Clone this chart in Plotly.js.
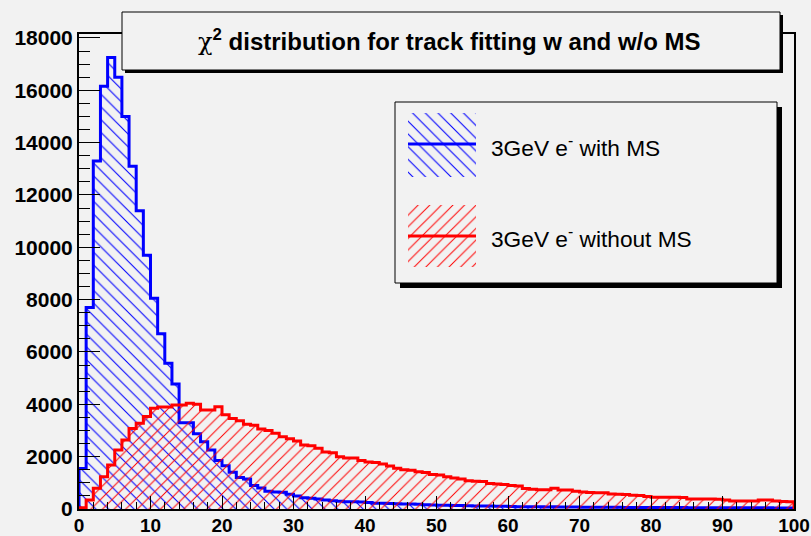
<!DOCTYPE html>
<html>
<head>
<meta charset="utf-8">
<script src="https://cdn.plot.ly/plotly-3.0.1.min.js"></script>
<style>
  html, body { margin: 0; padding: 0; background: #f2f2f2; }
  #chart { width: 811px; height: 536px; }
</style>
</head>
<body>
<div id="chart"></div>
<script>
// Histogram binning: 100 bins of width 1 on [0, 100)
const binLow = 0;
const binHigh = 100;
const nBins = 100;

// chi2 of 3 GeV electron tracks, fit including multiple scattering
const countsWithMS = [
  1550, 7700, 13300, 16150, 17250, 16500, 15000, 13100, 11400, 9700,
  8050, 6700, 5570, 4780, 3300, 3300, 2880, 2570, 2250, 1850,
  1650, 1400, 1200, 1150, 900, 800, 680, 650, 640, 560,
  500, 430, 410, 380, 340, 320, 300, 280, 275, 270,
  250, 220, 215, 210, 200, 195, 190, 185, 160, 155,
  145, 140, 135, 130, 120, 118, 115, 112, 108, 105,
  95, 90, 88, 85, 82, 80, 85, 78, 75, 72,
  70, 70, 68, 66, 65, 64, 62, 60, 60, 58,
  58, 56, 55, 55, 54, 52, 52, 50, 50, 48,
  48, 47, 46, 45, 45, 44, 43, 42, 42, 40
];

// chi2 of 3 GeV electron tracks, fit ignoring multiple scattering
const countsWithoutMS = [
  50, 340, 790, 1235, 1680, 2250, 2640, 3080, 3280, 3530,
  3850, 3900, 3900, 3970, 3975, 4040, 4000, 3780, 3780, 3910,
  3600, 3460, 3370, 3240, 3200, 3060, 3000, 2890, 2760, 2680,
  2600, 2450, 2420, 2320, 2180, 2150, 2000, 1950, 1950, 1850,
  1800, 1780, 1720, 1640, 1560, 1500, 1480, 1420, 1390, 1320,
  1300, 1230, 1180, 1150, 1080, 1060, 1050, 970, 960, 940,
  900, 880, 780, 750, 740, 740, 790, 730, 725, 680,
  650, 630, 625, 620, 570, 560, 555, 530, 520, 480,
  450, 450, 445, 445, 440, 385, 380, 380, 378, 375,
  340, 310, 308, 305, 305, 340, 340, 310, 282, 280
];

const xTickVals = [0, 10, 20, 30, 40, 50, 60, 70, 80, 90, 100];
const xTickText = ['0', '10', '20', '30', '40', '50', '60', '70', '80', '90', '100'];
const yTickVals = [0, 2000, 4000, 6000, 8000, 10000, 12000, 14000, 16000, 18000];
const yTickText = ['0', '2000', '4000', '6000', '8000', '10000', '12000', '14000', '16000', '18000'];

const seriesNames = ['3GeV e<sup>-</sup> with MS', '3GeV e<sup>-</sup> without MS'];
const seriesColors = ['#0000ff', '#ff0000'];
const hatchShapes = ['\\', '/'];
const titleText = '<span style="font-family:\'DejaVu Serif\';font-weight:normal">\u03c7</span><b><sup>2</sup> distribution for track fitting w and w/o MS</b>';

// Frame of the pad in pixels
const FR = { l: 79, r: 794, t: 34, b: 509 };
const W = 811, H = 536;
const yMax = 18150;
const px = v => (v - FR.l) / (FR.r - FR.l);
const py = v => (FR.b - v) / (FR.b - FR.t);

// Outline of a histogram drawn as a step line closed down to zero at both ends
function stepOutline(counts) {
  const w = (binHigh - binLow) / nBins;
  const xs = [binLow], ys = [0];
  counts.forEach((c, i) => { xs.push(binLow + i * w); ys.push(c); });
  xs.push(binHigh); ys.push(counts[counts.length - 1]);
  xs.push(binHigh); ys.push(0);
  return { xs, ys };
}

function hatch(k) {
  return {
    shape: hatchShapes[k], fgcolor: seriesColors[k], bgcolor: 'rgba(0,0,0,0)',
    size: k === 0 ? 9 : 8.2, solidity: 0.12, fillmode: 'replace'
  };
}

function histTrace(counts, k) {
  const s = stepOutline(counts);
  return {
    type: 'scatter', mode: 'lines',
    x: s.xs, y: s.ys,
    line: { color: seriesColors[k], width: 3, shape: 'hv' },
    fill: 'tozeroy',
    fillcolor: 'rgba(0,0,0,0)',
    fillpattern: hatch(k),
    hoverinfo: 'skip', showlegend: false
  };
}

// Legend keys (hatched box with a line through it), in pixel coordinates
const legendKeys = [
  { x0: 408, x1: 476, y0: 113, y1: 177, yl: 144, ytext: 146 },
  { x0: 408, x1: 476, y0: 205, y1: 267, yl: 236, ytext: 237 }
];
const keyTraces = [];
legendKeys.forEach((g, k) => {
  keyTraces.push({
    type: 'scatter', mode: 'lines', xaxis: 'x2', yaxis: 'y2',
    x: [g.x0, g.x1, g.x1, g.x0, g.x0], y: [g.y0, g.y0, g.y1, g.y1, g.y0],
    line: { width: 0, color: 'rgba(0,0,0,0)' },
    fill: 'toself', fillcolor: 'rgba(0,0,0,0)',
    fillpattern: hatch(k),
    hoverinfo: 'skip', showlegend: false
  });
  keyTraces.push({
    type: 'scatter', mode: 'lines', xaxis: 'x2', yaxis: 'y2',
    x: [g.x0, g.x1], y: [g.yl, g.yl],
    line: { width: 3, color: seriesColors[k] },
    hoverinfo: 'skip', showlegend: false
  });
});

const data = [histTrace(countsWithMS, 0), histTrace(countsWithoutMS, 1)].concat(keyTraces);

function rect(x0, y0, x1, y1, fill, line, layer) {
  return {
    type: 'rect', xref: 'paper', yref: 'paper',
    x0: px(x0), x1: px(x1), y0: py(y0), y1: py(y1),
    fillcolor: fill, line: line ? { color: '#000', width: 1 } : { width: 0 },
    layer: layer
  };
}

const shapes = [
  rect(400, 107, 782, 288, '#000', false, 'below'),
  rect(395, 102, 777, 283, '#f2f2f2', true, 'below'),
  rect(125, 15, 783, 73, '#000', false, 'above'),
  rect(122, 12, 780, 70, '#f2f2f2', true, 'above')
];

const annotations = [
  {
    xref: 'paper', yref: 'paper', x: px(449), y: py(40),
    xanchor: 'center', yanchor: 'middle', showarrow: false,
    text: titleText, font: { size: 24, color: '#000', family: 'Liberation Sans, Arial, sans-serif' }
  }
].concat(legendKeys.map((g, k) => ({
  xref: 'x2', yref: 'y2', x: 489, y: g.ytext,
  xanchor: 'left', yanchor: 'middle', showarrow: false,
  text: seriesNames[k], font: { size: 22.7, color: '#000', family: 'Liberation Sans, Arial, sans-serif' }
})));

const axisCommon = {
  showline: true, linecolor: '#000', linewidth: 2, mirror: true,
  showgrid: false, zeroline: false, ticks: 'inside', tickcolor: '#000', tickwidth: 1,
  fixedrange: true, automargin: false, tickmode: 'array'
};

const layout = {
  width: W, height: H,
  margin: { l: FR.l, r: W - FR.r, t: FR.t, b: H - FR.b, pad: 0 },
  paper_bgcolor: '#f2f2f2', plot_bgcolor: 'rgba(0,0,0,0)',
  showlegend: false,
  font: { family: 'Liberation Sans, Arial, sans-serif', color: '#000' },
  xaxis: Object.assign({}, axisCommon, {
    range: [binLow, binHigh], tickvals: xTickVals, ticktext: xTickText, ticklen: 13,
    ticklabelstandoff: -2,
    minor: { tickmode: 'linear', tick0: 0, dtick: 2, ticks: 'inside', ticklen: 7, tickcolor: '#000', tickwidth: 1, showgrid: false },
    tickfont: { size: 19, weight: 'bold', color: '#000' }
  }),
  yaxis: Object.assign({}, axisCommon, {
    range: [0, yMax], tickvals: yTickVals, ticktext: yTickText, ticklen: 21,
    minor: { tickmode: 'linear', tick0: 0, dtick: 500, ticks: 'inside', ticklen: 11, tickcolor: '#000', tickwidth: 1, showgrid: false },
    tickfont: { size: 21, weight: 'bold', color: '#000' }
  }),
  xaxis2: { overlaying: 'x', anchor: 'y2', range: [FR.l, FR.r], visible: false, fixedrange: true },
  yaxis2: { overlaying: 'y', anchor: 'x2', range: [FR.b, FR.t], visible: false, fixedrange: true },
  shapes: shapes,
  annotations: annotations
};

Plotly.newPlot('chart', data, layout, { staticPlot: true, displayModeBar: false });
</script>
</body>
</html>
